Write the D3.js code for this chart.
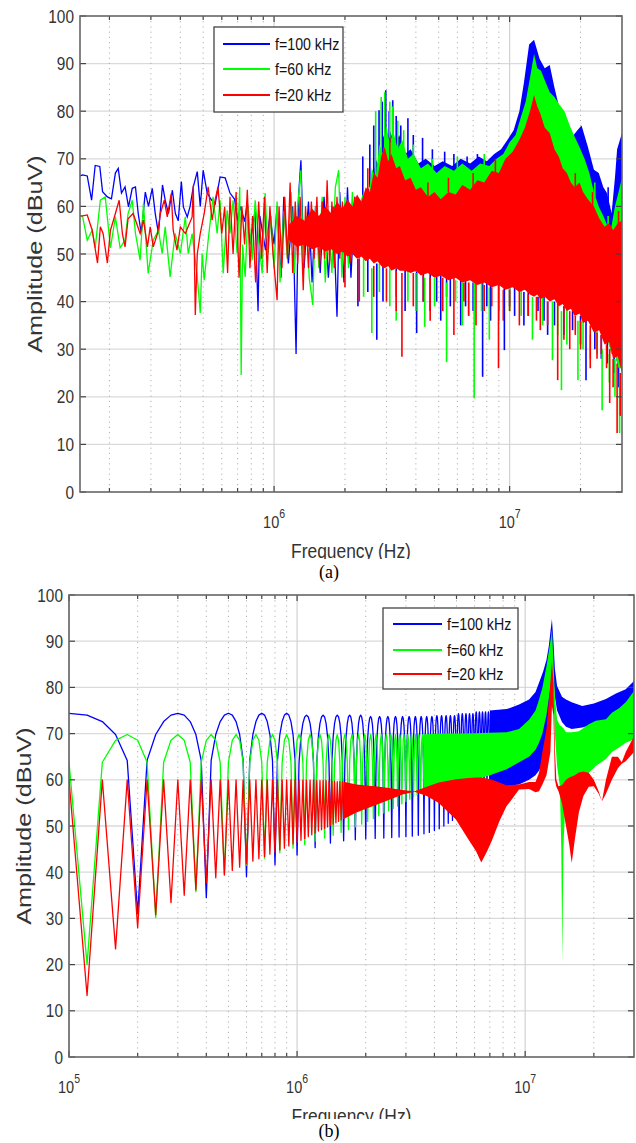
<!DOCTYPE html>
<html>
<head>
<meta charset="utf-8">
<script src="https://cdn.jsdelivr.net/npm/d3@7"></script>
<style>
  body { margin: 0; background: #fff; }
  text { font-family: Arial, "Liberation Sans", Helvetica, sans-serif; fill: #333; }
</style>
</head>
<body>
<script>
// ---------- shared ----------
const seriesNames = ["f=100 kHz", "f=60 kHz", "f=20 kHz"];
const colors = ["#0000ff", "#00ff00", "#ff0000"];
const yTicks = [0, 10, 20, 30, 40, 50, 60, 70, 80, 90, 100];

// ---------- panel (a): measured spectra ----------
const aFreqRange = [1.5e5, 3e7];

// low-frequency traces [Hz, dBuV]
const aBlueTrace = [[1.5e5,66.4],[1.54e5,66.6],[1.61e5,66.4],[1.68e5,61.3],[1.74e5,68.6],[1.82e5,68.4],[1.87e5,63.1],[1.96e5,62.0],[2.04e5,61.6],[2.12e5,67.0],[2.18e5,68.0],[2.25e5,62.8],[2.33e5,64.1],[2.41e5,59.9],[2.5e5,63.8],[2.58e5,64.1],[2.65e5,58.5],[2.73e5,54.3],[2.84e5,63.0],[2.93e5,60.0],[3.04e5,63.8],[3.13e5,58.5],[3.23e5,54.3],[3.36e5,64.5],[3.45e5,61.3],[3.56e5,58.5],[3.7e5,63.4],[3.81e5,58.5],[3.92e5,57.0],[4.04e5,65.2],[4.12e5,59.9],[4.28e5,57.8],[4.4e5,60.0],[4.54e5,64.1],[4.72e5,67.3],[4.86e5,60.0],[5.0e5,67.6],[5.2e5,62.8],[5.4e5,61.5],[5.62e5,60.5],[5.9e5,66.2],[6.2e5,66.0],[6.5e5,62.8],[6.8e5,61.5],[7.0e5,57],[7.2e5,60],[7.5e5,56.8],[7.7e5,61],[7.9e5,52],[8.3e5,59],[8.55e5,38],[8.7e5,58],[9.2e5,50.8],[9.6e5,58],[1.0e6,52],[1.03e6,60],[1.07e6,45],[1.1e6,62],[1.15e6,48],[1.2e6,60],[1.24e6,29],[1.27e6,62],[1.3e6,69.7],[1.34e6,47],[1.4e6,61],[1.45e6,44],[1.5e6,60],[1.57e6,46],[1.63e6,62],[1.7e6,45],[1.78e6,60],[1.85e6,36.8],[1.9e6,63],[1.98e6,44],[2.05e6,64],[2.12e6,45],[2.2e6,62],[2.3e6,50]];
const aGreenTrace = [[1.5e5,58],[1.54e5,57.8],[1.61e5,52.9],[1.69e5,55],[1.74e5,51.3],[1.83e5,61.3],[1.92e5,62],[2.02e5,51.3],[2.12e5,57.8],[2.22e5,51.3],[2.33e5,52.9],[2.4e5,58.5],[2.5e5,61.3],[2.58e5,54.3],[2.7e5,48.7],[2.79e5,60.6],[2.92e5,45.9],[3.07e5,52.9],[3.23e5,55],[3.35e5,50.1],[3.45e5,55.7],[3.62e5,45.2],[3.8e5,54.3],[4.0e5,50.1],[4.2e5,57.8],[4.32e5,50.1],[4.49e5,54.3],[4.72e5,45.2],[4.86e5,37.6],[4.95e5,50.1],[5.05e5,44.5],[5.25e5,52.9],[5.51e5,62],[5.73e5,54.3],[5.9e5,61.3],[6.08e5,45.9],[6.32e5,59.2],[6.5e5,54.3],[6.7e5,61.3],[6.97e5,50.1],[7.15e5,64.1],[7.25e5,24.6],[7.35e5,52],[7.54e5,45.2],[7.76e5,59.9],[8.07e5,48.7],[8.31e5,61.3],[8.55e5,54.3],[8.9e5,45.9],[9.16e5,62.8],[9.43e5,50.1],[9.7e5,58],[1.0e6,47],[1.03e6,61],[1.06e6,44],[1.1e6,59],[1.14e6,49],[1.18e6,63],[1.22e6,46],[1.26e6,60],[1.3e6,67.6],[1.33e6,48],[1.37e6,58],[1.41e6,45],[1.46e6,39.3],[1.5e6,60],[1.55e6,47],[1.6e6,62],[1.65e6,44],[1.7e6,59],[1.76e6,46],[1.82e6,64],[1.88e6,67.6],[1.94e6,45],[2.0e6,62],[2.07e6,47],[2.15e6,63],[2.22e6,50]];
const aRedTrace = [[1.5e5,58],[1.54e5,58],[1.61e5,58.2],[1.69e5,55],[1.78e5,48.1],[1.83e5,55.7],[1.88e5,54.3],[1.96e5,48.1],[2.02e5,55],[2.08e5,57.1],[2.2e5,61.3],[2.27e5,54.3],[2.33e5,51.5],[2.4e5,57.4],[2.52e5,58.5],[2.61e5,56.4],[2.7e5,54.3],[2.79e5,57.1],[2.9e5,51.5],[2.98e5,55.7],[3.07e5,51.5],[3.2e5,54.3],[3.29e5,58.5],[3.42e5,61.3],[3.52e5,57.8],[3.66e5,62.7],[3.73e5,55],[3.87e5,50.8],[4.0e5,55.7],[4.2e5,54.3],[4.49e5,57.8],[4.54e5,64.4],[4.63e5,37.2],[4.72e5,50],[4.86e5,54.3],[5.05e5,58.5],[5.25e5,64.1],[5.46e5,57.1],[5.62e5,61.3],[5.78e5,64.1],[6.0e5,54.3],[6.17e5,59.9],[6.35e5,46],[6.5e5,62],[6.7e5,50],[6.9e5,63],[7.1e5,45],[7.3e5,60],[7.5e5,52],[7.7e5,63.5],[7.9e5,47],[8.1e5,58],[8.35e5,44],[8.6e5,61],[8.85e5,49],[9.1e5,62],[9.35e5,46],[9.6e5,60],[9.9e5,50],[1.03e6,40.3],[1.05e6,60],[1.08e6,47],[1.11e6,62],[1.14e6,49],[1.17e6,65],[1.2e6,46],[1.23e6,61],[1.26e6,48],[1.29e6,62],[1.33e6,42.4],[1.36e6,60],[1.4e6,47],[1.44e6,61],[1.48e6,49],[1.52e6,62],[1.56e6,47],[1.6e6,61],[1.64e6,49],[1.68e6,65.5],[1.72e6,48],[1.76e6,61],[1.8e6,47],[1.85e6,62],[1.9e6,49],[1.95e6,61],[2.0e6,48],[2.05e6,60],[2.1e6,48],[2.2e6,62],[2.3e6,49]];

// dense region envelopes [Hz, top, bottom]
const aBlueBand = [[2.3e6,60,52],[2.5e6,64,50],[2.6e6,62,50],[2.7e6,70,49.5],[2.8e6,68,49],[2.9e6,75,48.5],[3.0e6,73,48],[3.1e6,76,48],[3.25e6,73,47.5],[3.4e6,75,47.5],[3.6e6,71,47],[3.8e6,72,47],[4.1e6,69,46.5],[4.4e6,70,46.5],[4.8e6,68.5,46],[5.2e6,69.5,46],[5.7e6,68.5,45.5],[6.2e6,70,45.5],[6.8e6,69,45],[7.4e6,70.5,45],[8.0e6,69.5,44.5],[8.6e6,71,44.5],[9.2e6,72,44],[9.8e6,74,44],[1.04e7,76,43.5],[1.1e7,80,43.5],[1.15e7,86,43],[1.21e7,94,43],[1.27e7,95,42.5],[1.34e7,91,42.5],[1.41e7,89,42],[1.48e7,89.7,41.5],[1.55e7,85,41],[1.62e7,81,40.5],[1.71e7,75.4,40],[1.79e7,73,39.5],[1.87e7,75,38.5],[1.94e7,76,38.5],[2.02e7,77,37],[2.15e7,72.5,37],[2.28e7,67.7,35],[2.39e7,67,35],[2.5e7,64,32.5],[2.59e7,62.8,32.5],[2.71e7,58.6,29.5],[2.8e7,66,29.5],[2.86e7,72,27],[3e7,75.4,26.5]];
const aGreenBand = [[2.2e6,58,52],[2.4e6,63,50],[2.5e6,61,50],[2.6e6,68,49.5],[2.7e6,66,49],[2.8e6,73,48.5],[2.9e6,71,48],[3.0e6,77,48],[3.1e6,73,47.5],[3.2e6,76,47.5],[3.35e6,72,47],[3.5e6,74,47],[3.7e6,70,46.5],[3.9e6,71,46.5],[4.2e6,68,46],[4.5e6,69,46],[4.9e6,67,45.5],[5.3e6,68.5,45.5],[5.8e6,67.5,45],[6.3e6,69,45],[6.9e6,67.5,44.5],[7.5e6,69,44.5],[8.2e6,68.5,44],[8.8e6,70,44],[9.4e6,71,43.5],[1.0e7,73.5,43.5],[1.06e7,75,43],[1.12e7,79,43],[1.17e7,82,42.5],[1.22e7,87,42.5],[1.27e7,92,42],[1.31e7,89,42],[1.36e7,88.5,41.5],[1.41e7,86.5,41.5],[1.48e7,84,41],[1.55e7,83,40.5],[1.62e7,81.5,40],[1.71e7,80,39.5],[1.8e7,77,39],[1.89e7,74.6,38],[1.98e7,72.5,38],[2.08e7,70,36.5],[2.18e7,67,36.5],[2.28e7,63,34.5],[2.39e7,60,34.5],[2.5e7,58,32],[2.6e7,56,32],[2.7e7,55.5,29],[2.8e7,60,29],[2.9e7,63,26],[3e7,66,26]];
const aRedBand = [[1.15e6,56,53],[1.25e6,58,51.5],[1.35e6,57,52],[1.45e6,59.5,51],[1.55e6,58,51.5],[1.65e6,60,50.5],[1.75e6,58.5,51],[1.85e6,61,50],[1.95e6,59.5,50.5],[2.05e6,61.5,49.5],[2.15e6,60,50],[2.25e6,62.5,49],[2.35e6,61,49.5],[2.45e6,64,48.5],[2.55e6,63,49],[2.65e6,67,48],[2.75e6,66,48.5],[2.85e6,70.5,47.5],[2.95e6,72.5,47],[3.05e6,69.5,47.5],[3.15e6,71,46.5],[3.3e6,68,47],[3.42e6,68.5,46.5],[3.6e6,65.5,46.5],[3.8e6,66,46],[4.0e6,63.5,46.5],[4.2e6,64,45.5],[4.5e6,62,46],[4.8e6,63,45],[5.1e6,61.5,45.5],[5.5e6,63,44.5],[5.9e6,62.5,45],[6.3e6,64.5,44],[6.8e6,63.5,44.5],[7.3e6,65.5,43.5],[7.8e6,65,44],[8.4e6,67.5,43],[9.0e6,67,43.5],[9.6e6,70,42.5],[1.03e7,71.5,43],[1.1e7,74,42],[1.16e7,76.5,42.5],[1.22e7,80,41.5],[1.27e7,83.4,41],[1.31e7,81,41.5],[1.35e7,79.5,40.5],[1.41e7,76.5,41],[1.48e7,75.4,40],[1.55e7,72,40.5],[1.62e7,70.4,39],[1.68e7,68,39.5],[1.75e7,67,38],[1.82e7,65,38.5],[1.89e7,64,37],[1.98e7,65,37.5],[2.05e7,63,35.5],[2.15e7,61.5,36],[2.28e7,60,33.5],[2.4e7,57.5,34],[2.53e7,55.7,31],[2.65e7,56.5,31.5],[2.75e7,55,28],[2.88e7,56.5,28.5],[3e7,57,25]];

// isolated spikes [Hz, from, to]
const aBlueSpikes = [[2.38e6,62,70.5],[2.55e6,64,73],[2.65e6,66,77],[2.79e6,70,80.2],[2.88e6,72,82],[2.98e6,74,84.4],[3.08e6,74,80],[3.19e6,74,82.3],[3.3e6,72,79],[3.45e6,72,77],[3.7e6,70,78.5],[3.9e6,68,75],[4.27e6,67,74.4],[4.7e6,66,72],[5.3e6,66,71.5],[5.8e6,66,71],[6.6e6,66,70.5],[7.3e6,66,71],[1.75e7,73,76],[2.62e7,60,64],[2.27e6,49,39],[2.73e6,48,32],[3.6e6,47,38],[4.03e6,47,33.4],[4.6e6,46,38],[5.1e6,46,36],[5.6e6,45,39],[6.2e6,45,35],[7.68e6,45,24.2],[8.3e6,44,36],[9.5e6,44,29.8],[1.05e7,43,37],[1.15e7,42,35],[1.32e7,41,38],[1.45e7,40,33],[2.11e7,36,23.5],[2.3e7,35,30],[2.6e7,32,27],[2.78e7,30,25],[2.5e6,49,42],[2.9e6,48,40],[3.3e6,47,41],[4.3e6,46,40],[4.9e6,45.5,40],[5.4e6,45,41],[6.5e6,44.5,39],[7.0e6,44,38],[8.0e6,44,39],[9.0e6,43.5,38],[1.0e7,43,39],[1.2e7,42,37],[1.4e7,41,36],[1.55e7,40,35],[1.7e7,39,33],[1.85e7,38,34],[2.0e7,37,31],[2.45e7,33,28],[2.9e7,27,22]];
const aGreenSpikes = [[2.7e6,66,80],[2.85e6,70,83],[2.95e6,72,84],[3.1e6,74,82],[3.19e6,74,81],[3.35e6,72,78],[3.55e6,70,76],[3.9e6,68,73],[4.7e6,67,70],[6.0e6,67,70.5],[7.8e6,68,71],[2.3e7,62,65],[2.62e7,55,58],[2.6e6,47,33.4],[3.3e6,46,36],[4.36e6,45,34.7],[5.4e6,44,27.3],[6.3e6,44,35],[7.07e6,44,19.7],[8.2e6,43,32],[1.25e7,41,32],[1.52e7,40,27.7],[1.66e7,38,21.4],[1.95e7,36,23.5],[2.2e7,33,28],[2.47e7,30,17.2],[2.93e7,25,12.4],[2.4e6,49,41],[2.8e6,48,42],[3.1e6,47,39],[3.7e6,46.5,40],[4.0e6,46,38],[4.8e6,45,39],[5.9e6,44.5,40],[6.7e6,44,37],[7.6e6,44,38],[9.0e6,43.5,36],[1.0e7,43,38],[1.12e7,42.5,37],[1.38e7,41,35],[1.6e7,39.5,33],[1.75e7,38.5,31],[2.05e7,36,30],[2.35e7,34,29],[2.65e7,29,23],[2.8e7,28,20]];
const aRedSpikes = [[2.3e6,49,40],[3.49e6,46,28.4],[4.6e6,45,36],[5.8e6,45,33],[7.2e6,44,35],[8.97e6,44,26],[1.1e7,43,35],[1.35e7,41,34],[1.6e7,40,23.5],[1.8e7,38,30],[2.2e7,35,26],[2.66e7,30,18.7],[2.86e7,27,12.4],[2.5e6,63,68],[3.1e6,70,74.5],[4.5e6,62,65],[5.5e6,63,66],[7.0e6,64,67],[8.7e6,67,70],[1.9e7,64,67],[2.25e7,60,63],[2.9e7,56,59],[2.0e6,49,43],[2.65e6,47.5,41],[3.0e6,47,40],[3.3e6,46.5,38],[3.9e6,46,39],[4.3e6,45.5,40],[5.2e6,45,38],[6.4e6,44,40],[6.7e6,44,37],[7.8e6,43.5,38],[8.4e6,43,39],[9.4e6,42.5,36],[1.0e7,42.5,38],[1.2e7,41.5,37],[1.3e7,41,36],[1.45e7,40,35],[1.7e7,39,32],[1.9e7,37,33],[2.0e7,36,30],[2.35e7,33.5,28],[2.45e7,33,29],[2.58e7,31,26],[2.75e7,28,22],[2.95e7,25,16]];

// ---------- panel (b): computed spectra ----------
const bFreqRange = [1e5, 3e7];

// lobe profile (dB relative to lobe peak) at 20 kHz steps
const bBlueShape = [-10.2, -4.6, -1.8, -0.4, 0, -0.4, -1.8, -4.6, -10.2];
const bGreenShape = [-6.0, -1.25, 0, -1.25, -6.0];
const bRedShape = [0];

// lobe peaks and the null that closes each lobe
const bBluePeaks = [74.4,74.4,74.4,74.4,74.4,74.0,74.0,74.0,74.0,74.0,73.7,73.7,73.7,73.7,73.7,73.7,73.7,73.7,73.7,73.7,73.9,73.9,73.9,73.9,73.9,74.3,74.3,74.3,74.3,74.3,74.7,74.7,74.7,74.7,74.7];
const bBlueNulls = [31,34.5,39,41.6,43.7,45.3,46.3,46.8,47,47.2,47.3,47.4,47.5,47.6,47.7,47.8,48,48.3,48.6,49,49.4,50,50.6,51.2,51.8,52.4,53,53.5,54.1,54.7,55.3,55.8,56.3,56.8,57.3];
const bGreenPeaks = [69.8,69.8,69.8,69.8,69.8,69.8,69.8,69.8,69.8,69.8,69.8,69.8,69.8,69.8,69.8,69.8,69.8,69.8,69.8,69.8,69.8,69.8,69.8,69.8,69.8,69.8,69.8,69.8,69.8,69.8];
const bGreenNulls = [20,30.2,35.8,39.3,41.5,43,44.2,45.2,46,46.7,47.4,48,48.6,49.2,49.8,50.4,51,51.6,52.2,52.8,53.3,53.8,54.3,54.8,55.3,55.8,56.3,56.8,57.2,57.6];
const bRedPeaks = [60,60,60,60,60,60,60,60,60,60,60,60,60,60,60,60,60,60,60,60,60,60,60,60,59.9,59.9,59.9,59.9,59.8,59.8,59.8,59.8,59.7,59.7,59.7,59.6,59.6,59.6];
const bRedNulls = [13.3,23.4,28,30.8,33.4,35,36.2,37.7,38.8,39.5,40.4,41.1,41.8,42.4,42.9,43.4,43.9,44.3,44.8,45.2,45.7,46.1,46.5,46.9,47.3,47.7,48.1,48.5,48.9,49.2,49.5,49.8,50.1,50.4,50.7,51,51.3,51.5];

// dense region envelopes [Hz, top, bottom]
const bBlueBand = [[7.0e6,75,57.3],[8.3e6,75.3,58.6],[9.4e6,76.3,59],[1.04e7,77.4,60],[1.11e7,79,61],[1.15e7,81,62],[1.2e7,83.5,64],[1.24e7,86,66],[1.27e7,89,70],[1.29e7,92,74],[1.31e7,94.8,82],[1.33e7,90,82],[1.35e7,84,78],[1.38e7,80.3,75],[1.45e7,78,72.5],[1.51e7,77.4,71.5],[1.6e7,76.8,71],[1.78e7,76,71.3],[2.0e7,76.5,72],[2.26e7,77.5,73],[2.5e7,78.7,74],[2.76e7,79.6,75],[3e7,81.4,76]];
const bGreenBand = [[3.6e6,69.8,57.6],[4.18e6,70,58.6],[5e6,70,59.5],[6e6,70.1,60],[7e6,70.2,61],[8.3e6,70.3,62.3],[9.4e6,71,63.8],[1.04e7,73,65],[1.11e7,75,66.5],[1.15e7,77.4,68],[1.19e7,80,70],[1.24e7,84.6,74],[1.29e7,90,80],[1.31e7,92.5,84],[1.33e7,86,78],[1.35e7,78,70],[1.38e7,73,63],[1.42e7,71.8,58.5],[1.44e7,71.6,45],[1.455e7,71.4,20.6],[1.47e7,71.2,45],[1.51e7,70.3,58.6],[1.6e7,70.3,59.5],[1.72e7,70.5,60],[1.9e7,72,61.5],[2.04e7,72.8,63],[2.26e7,73.1,64.5],[2.4e7,74.5,66],[2.58e7,75.5,67],[2.76e7,76.8,68],[3e7,79.2,68.8]];
const bRedBand = [[1.6e6,59.6,51.5],[1.82e6,59,52.9],[2.2e6,58.6,54.5],[2.54e6,58.2,55.7],[2.9e6,57.8,56.8],[3.27e6,57.5,57.4],[3.7e6,58.5,56.5],[4.18e6,59.4,55],[4.97e6,60.1,51.4],[5.65e6,60.4,47],[6.1e6,60.5,44.5],[6.42e6,60.5,42.1],[6.8e6,60.3,44.5],[7.17e6,60,47],[7.7e6,59.4,51],[8.27e6,58.8,54.2],[9.4e6,59,57.9],[1.04e7,59.5,58],[1.11e7,59.5,57.3],[1.15e7,61.5,57.5],[1.19e7,66,59],[1.24e7,71,61],[1.29e7,81,66],[1.31e7,85.7,76],[1.33e7,81,74],[1.35e7,66.6,60],[1.37e7,60,58.5],[1.4e7,58.6,57.5],[1.45e7,58.8,55],[1.51e7,60,50],[1.56e7,60.5,46],[1.6e7,60.7,42],[1.65e7,61,47],[1.72e7,61.6,53],[1.8e7,61.8,56.5],[1.9e7,61.5,58.5],[2.0e7,60,58.6],[2.1e7,57.5,57],[2.17e7,55.3,55.3],[2.26e7,60,57],[2.4e7,65,60],[2.55e7,65,62.5],[2.65e7,63.8,63.5],[2.76e7,66,64],[3e7,69.4,66]];

// ---------- drawing ----------
const W = 636, H = 1143;
const svg = d3.select("body").append("svg").attr("width", W).attr("height", H);

// harmonic samples of each lobe, then the null closing it
function lobeSamples(period, step, firstLobe, peaks, nulls, shape, fMin) {
  const pts = [];
  peaks.forEach((pk, i) => {
    const f0 = (firstLobe + i) * period;
    shape.forEach((off, j) => {
      const f = f0 + (j + 1) * step;
      if (f >= fMin) pts.push([f, pk + off]);
    });
    pts.push([f0 + period, nulls[i]]);
  });
  return pts;
}

function renderA(pg, x, y) {
  const line = d3.line().x(d => x(d[0])).y(d => y(d[1]));
  const area = d3.area().x(d => x(d[0])).y0(d => y(d[2])).y1(d => y(d[1]));
  const sets = [
    [aBlueBand, aBlueTrace, aBlueSpikes],
    [aGreenBand, aGreenTrace, aGreenSpikes],
    [aRedBand, aRedTrace, aRedSpikes]
  ];
  sets.forEach(([band, trace, spikes], i) => {
    pg.append("path").datum(band).attr("d", area).attr("fill", colors[i]);
    pg.append("path").datum(trace).attr("d", line)
      .attr("fill", "none").attr("stroke", colors[i]).attr("stroke-width", 1.3);
    pg.append("g").selectAll("line").data(spikes).join("line")
      .attr("x1", d => x(d[0])).attr("x2", d => x(d[0]))
      .attr("y1", d => y(d[1])).attr("y2", d => y(d[2]))
      .attr("stroke", colors[i]).attr("stroke-width", 1.6);
  });
}

function renderB(pg, x, y) {
  const line = d3.line().x(d => x(d[0])).y(d => y(d[1]));
  const area = d3.area().x(d => x(d[0])).y0(d => y(d[2])).y1(d => y(d[1]));
  const sets = [
    [lobeSamples(2e5, 2e4, 0, bBluePeaks, bBlueNulls, bBlueShape, 1e5), bBlueBand],
    [lobeSamples(1.2e5, 2e4, 0, bGreenPeaks, bGreenNulls, bGreenShape, 1e5), bGreenBand],
    [lobeSamples(4e4, 2e4, 2, bRedPeaks, bRedNulls, bRedShape, 1e5), bRedBand]
  ];
  sets.forEach(([lobes, band], i) => {
    pg.append("path").datum(lobes).attr("d", line)
      .attr("fill", "none").attr("stroke", colors[i]).attr("stroke-width", 1.3)
      .attr("stroke-linejoin", "round");
    pg.append("path").datum(band).attr("d", area).attr("fill", colors[i]);
  });
}

function stretched(g, x, y, txt, size, anchor, sy) {
  return g.append("text")
    .attr("transform", `translate(${x},${y}) scale(1,${sy})`)
    .attr("font-size", size).attr("text-anchor", anchor).text(txt);
}

function drawPanel(p) {
  const x = d3.scaleLog().domain(p.xDomain).range([p.left, p.right]);
  const y = d3.scaleLinear().domain([0, 100]).range([p.bottom, p.top]);
  const g = svg.append("g");

  const minor = [];
  [1e5, 1e6, 1e7].forEach(d => d3.range(2, 10).forEach(m => {
    const f = m * d;
    if (f > p.xDomain[0] && f < p.xDomain[1]) minor.push(f);
  }));
  const major = [1e5, 1e6, 1e7].filter(d => d >= p.xDomain[0] && d <= p.xDomain[1]);

  // grid
  g.append("g").selectAll("line").data(yTicks.filter(v => v > 0 && v < 100)).join("line")
    .attr("x1", p.left).attr("x2", p.right).attr("y1", d => y(d)).attr("y2", d => y(d))
    .attr("stroke", "#dadada").attr("stroke-width", 1.3);
  g.append("g").selectAll("line").data(minor).join("line")
    .attr("x1", d => x(d)).attr("x2", d => x(d)).attr("y1", p.top).attr("y2", p.bottom)
    .attr("stroke", "#b0b0b0").attr("stroke-width", 1).attr("stroke-dasharray", "1.2,4");
  g.append("g").selectAll("line").data(major).join("line")
    .attr("x1", d => x(d)).attr("x2", d => x(d)).attr("y1", p.top).attr("y2", p.bottom)
    .attr("stroke", "#d2d2d2").attr("stroke-width", 1.2);

  // data
  const clipId = "clip-" + p.name;
  svg.append("clipPath").attr("id", clipId).append("rect")
    .attr("x", p.left).attr("y", p.top).attr("width", p.right - p.left).attr("height", p.bottom - p.top);
  const pg = g.append("g").attr("clip-path", `url(#${clipId})`);
  p.render(pg, x, y);

  // ticks, inward on all four sides
  const tk = g.append("g").attr("stroke", "#444").attr("stroke-width", 1.2);
  major.concat(minor).forEach(f => {
    const len = major.includes(f) ? 6 : 4;
    tk.append("line").attr("x1", x(f)).attr("x2", x(f)).attr("y1", p.bottom).attr("y2", p.bottom - len);
    tk.append("line").attr("x1", x(f)).attr("x2", x(f)).attr("y1", p.top).attr("y2", p.top + len);
  });
  yTicks.forEach(v => {
    tk.append("line").attr("x1", p.left).attr("x2", p.left + 6).attr("y1", y(v)).attr("y2", y(v));
    tk.append("line").attr("x1", p.right).attr("x2", p.right - 6).attr("y1", y(v)).attr("y2", y(v));
  });

  g.append("rect").attr("x", p.left).attr("y", p.top)
    .attr("width", p.right - p.left).attr("height", p.bottom - p.top)
    .attr("fill", "none").attr("stroke", "#666").attr("stroke-width", 1.6);

  // tick labels
  yTicks.forEach(v => {
    stretched(g, p.left - 6, y(v), v, 15.4, "end", 1.2).attr("dy", "0.36em");
  });
  major.forEach(f => {
    const t = stretched(g, x(f), p.bottom + 36, "", 14.5, "middle", 1.2);
    t.append("tspan").text("10");
    t.append("tspan").attr("dy", -8).attr("font-size", 10.5).text(Math.round(Math.log10(f)));
  });

  // axis titles
  g.append("text")
    .attr("transform", `translate(${p.yLabelX},${(p.top + p.bottom) / 2}) scale(1,1.2) rotate(-90)`)
    .attr("font-size", 21).attr("text-anchor", "middle").text("Amplitude (dBuV)");

  const xlClip = "xl-" + p.name;
  svg.append("clipPath").attr("id", xlClip).append("rect")
    .attr("x", 0).attr("y", p.xLabelClip - 40).attr("width", W).attr("height", 40);
  stretched(g.append("g").attr("clip-path", `url(#${xlClip})`),
    (p.left + p.right) / 2, p.xLabelBase, "Frequency (Hz)", 17.4, "middle", 1.2);

  // caption
  stretched(g, 329, p.captionY, p.caption, 18, "middle", 1.1)
    .style("font-family", "'Liberation Serif', 'Times New Roman', serif").style("fill", "#000");

  // legend
  const L = p.legend;
  const lg = g.append("g");
  lg.append("rect").attr("x", L.x).attr("y", L.y).attr("width", L.w).attr("height", L.h)
    .attr("fill", "#fff").attr("stroke", "#444").attr("stroke-width", 1.3);
  seriesNames.forEach((name, i) => {
    lg.append("line").attr("x1", L.lineX[0]).attr("x2", L.lineX[1])
      .attr("y1", L.rows[i]).attr("y2", L.rows[i])
      .attr("stroke", colors[i]).attr("stroke-width", 2);
    stretched(lg, L.textX, L.rows[i], name, 14.2, "start", 1.15).attr("dy", "0.36em").style("fill", "#111");
  });
}

drawPanel({
  name: "a", left: 80, right: 622, top: 16, bottom: 492, xDomain: aFreqRange,
  render: renderA, yLabelX: 42, xLabelBase: 558, xLabelClip: 559,
  caption: "(a)", captionY: 578,
  legend: { x: 214, y: 27, w: 129, h: 85, rows: [44, 69, 95], lineX: [223, 270], textX: 275 }
});
drawPanel({
  name: "b", left: 69, right: 634, top: 595, bottom: 1057, xDomain: bFreqRange,
  render: renderB, yLabelX: 31, xLabelBase: 1123, xLabelClip: 1119,
  caption: "(b)", captionY: 1137,
  legend: { x: 383, y: 608, w: 135, h: 81, rows: [624, 650, 674], lineX: [393, 442], textX: 447 }
});
</script>
</body>
</html>
